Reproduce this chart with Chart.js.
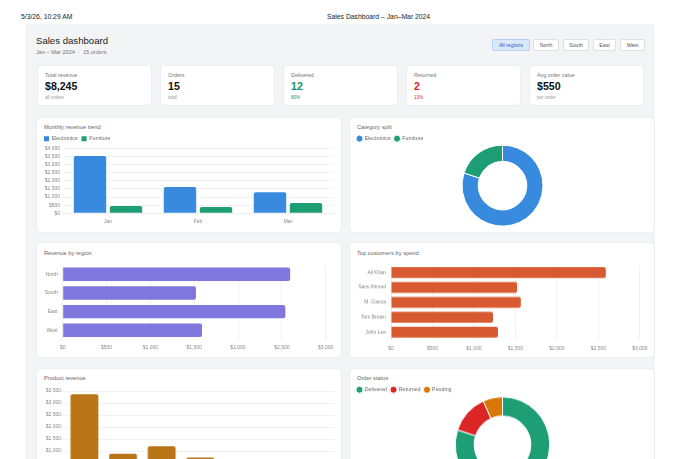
<!DOCTYPE html>
<html>
<head>
<meta charset="utf-8">
<title>Sales Dashboard – Jan–Mar 2024</title>
<script src="https://cdn.jsdelivr.net/npm/chart.js@4.4.1/dist/chart.umd.min.js"></script>
<style>
  body { margin: 0; width: 680px; height: 459px; overflow: hidden; background: #fff;
         font-family: "Liberation Sans", Arial, sans-serif; position: relative; }
  .abs { position: absolute; }
  .print-head { top: 13px; font-size: 6.8px; color: #222; line-height: 8px; white-space: nowrap; }
  .wrap { left: 25px; top: 24px; width: 630px; height: 480px; background: #f3f4f6; border-radius: 4px; }
  .h1 { left: 36px; top: 35px; font-size: 9.6px; color: #222; line-height: 11px; }
  .sub { left: 36px; top: 49px; font-size: 5.6px; color: #777; line-height: 6px; white-space: nowrap; }
  .btn { top: 39px; height: 12px; box-sizing: border-box; border: 1px solid #dedfe2; border-radius: 2px;
         background: #fff; color: #555; font-size: 5.2px; line-height: 10px; text-align: center; }
  .btn.on { background: #dbe7fb; border-color: #b9cff3; color: #2a5fc4; }
  .card { top: 65px; width: 115px; height: 41px; background: #fff; border-radius: 4px;
          box-sizing: border-box; border: 1px solid #eceef1; }
  .card .lbl { position: absolute; left: 7px; top: 6px; font-size: 5.4px; color: #777; line-height: 6px; white-space: nowrap; }
  .card .val { position: absolute; left: 7px; top: 14px; font-size: 10.6px; font-weight: bold; color: #111; line-height: 12px; }
  .card .note { position: absolute; left: 7px; top: 29px; font-size: 4.6px; color: #999; line-height: 5px; }
  .panel { background: #fff; border-radius: 5px; box-sizing: border-box; border: 1px solid #eceef1; }
  .ptitle { font-size: 5.7px; color: #666; line-height: 6px; white-space: nowrap; }
  .cv { position: absolute; }
</style>
</head>
<body>
<div class="abs print-head" style="left:21px">5/3/26, 10:29 AM</div>
<div class="abs print-head" style="left:327px">Sales Dashboard – Jan–Mar 2024</div>

<div class="abs wrap"></div>
<div class="abs h1">Sales dashboard</div>
<div class="abs sub">Jan – Mar 2024 &nbsp;·&nbsp; 15 orders</div>

<div class="abs btn on" style="left:492px;width:38px">All regions</div>
<div class="abs btn" style="left:533px;width:26px">North</div>
<div class="abs btn" style="left:563px;width:26px">South</div>
<div class="abs btn" style="left:593px;width:23px">East</div>
<div class="abs btn" style="left:620px;width:25px">West</div>

<div class="abs card" style="left:37px"><div class="lbl">Total revenue</div><div class="val">$8,245</div><div class="note">all orders</div></div>
<div class="abs card" style="left:160px"><div class="lbl">Orders</div><div class="val">15</div><div class="note">total</div></div>
<div class="abs card" style="left:283px"><div class="lbl">Delivered</div><div class="val" style="color:#1a9068">12</div><div class="note" style="color:#1a9068">80%</div></div>
<div class="abs card" style="left:406px"><div class="lbl">Returned</div><div class="val" style="color:#dc2626">2</div><div class="note" style="color:#dc2626">13%</div></div>
<div class="abs card" style="left:529px"><div class="lbl">Avg order value</div><div class="val">$550</div><div class="note">per order</div></div>

<!-- chart panels -->
<div class="abs panel" style="left:36px;top:117px;width:306px;height:116px"></div>
<div class="abs panel" style="left:349px;top:117px;width:306px;height:116px"></div>
<div class="abs panel" style="left:36px;top:242px;width:306px;height:116px"></div>
<div class="abs panel" style="left:349px;top:242px;width:306px;height:116px"></div>
<div class="abs panel" style="left:36px;top:368px;width:306px;height:130px"></div>
<div class="abs panel" style="left:349px;top:368px;width:306px;height:130px"></div>

<div class="abs ptitle" style="left:44px;top:124px">Monthly revenue trend</div>
<div class="abs ptitle" style="left:357px;top:124px">Category split</div>
<div class="abs ptitle" style="left:44px;top:250px">Revenue by region</div>
<div class="abs ptitle" style="left:357px;top:250px">Top customers by spend</div>
<div class="abs ptitle" style="left:44px;top:375px">Product revenue</div>
<div class="abs ptitle" style="left:357px;top:375px">Order status</div>

<div class="cv" style="left:40px;top:131.65px;width:294px;height:98.35px"><canvas id="monthlyChart"></canvas></div>
<div class="cv" style="left:353px;top:131.65px;width:299px;height:94.65px"><canvas id="categoryChart"></canvas></div>
<div class="cv" style="left:40px;top:256.7px;width:298.3px;height:98.6px"><canvas id="regionChart"></canvas></div>
<div class="cv" style="left:353px;top:257px;width:300px;height:98.7px"><canvas id="customerChart"></canvas></div>
<div class="cv" style="left:40px;top:383.7px;width:294.5px;height:107px"><canvas id="productChart"></canvas></div>
<div class="cv" style="left:353px;top:383.35px;width:299px;height:108.8px"><canvas id="statusChart"></canvas></div>

<script>
// data
const months = ["Jan", "Feb", "Mar"];
const electronicsByMonth = [3530, 1620, 1290];
const furnitureByMonth = [450, 390, 640];

const categories = ["Electronics", "Furniture"];
const categoryTotals = [6600, 1645];

const regions = ["North", "South", "East", "West"];
const regionRevenue = [2595, 1520, 2540, 1590];

const customers = ["Ali Khan", "Sara Ahmed", "M. Garcia", "Tom Brown", "John Lee"];
const customerSpend = [2590, 1520, 1565, 1230, 1290];

const products = ["Laptop", "Chair", "Monitor", "Desk", "Headphones", "Lamp", "Keyboard"];
const productRevenue = [3360, 890, 1195, 725, 640, 620, 590];

const statuses = ["Delivered", "Returned", "Pending"];
const statusCounts = [12, 2, 1];

// colours
const BLUE = "#378ADD";
const GREEN = "#1D9E75";
const PURPLE = "#7F77DD";
const CORAL = "#D85A30";
const AMBER = "#BA7517";
const RED = "#DC2626";
const ORANGE = "#D97706";

Chart.defaults.font.family = "'Liberation Sans', Arial, sans-serif";
Chart.defaults.font.size = 5;
Chart.defaults.color = "#888";
Chart.defaults.animation = false;
Chart.defaults.responsive = true;
Chart.defaults.maintainAspectRatio = false;
Chart.defaults.plugins.tooltip.enabled = false;

const money = (v) => "$" + Number(v).toLocaleString("en-US");
const gridColor = "#f1f2f4";

// the legend box adds 10px under the labels; trim it so the plot sits closer
const legendTrim = (px) => ({
  id: "legendTrim",
  beforeInit(chart) {
    const fit = chart.legend.fit;
    chart.legend.fit = function () {
      fit.call(this);
      this.height -= px;
    };
  },
});

const legendOpts = (pointStyle) => ({
  display: true,
  position: "top",
  align: "start",
  labels: {
    color: "#666",
    font: { size: 5.3 },
    boxWidth: 5,
    boxHeight: 5,
    padding: 4,
    usePointStyle: pointStyle,
    pointStyle: "circle",
  },
});

// Monthly revenue trend
new Chart(document.getElementById("monthlyChart"), {
  type: "bar",
  data: {
    labels: months,
    datasets: [
      { label: "Electronics", data: electronicsByMonth, backgroundColor: BLUE, borderRadius: 2 },
      { label: "Furniture", data: furnitureByMonth, backgroundColor: GREEN, borderRadius: 2 },
    ],
  },
  options: {
    layout: { padding: { right: 1 } },
    plugins: { legend: legendOpts(false) },
    scales: {
      x: { grid: { display: false, drawTicks: false }, border: { color: "#eee" }, ticks: { padding: 5.5 } },
      y: {
        beginAtZero: true,
        afterFit: (s) => { s.width = 23; },
        grid: { color: gridColor, drawTicks: false },
        border: { display: false },
        ticks: { stepSize: 500, padding: 3, autoSkip: false, callback: money },
      },
    },
  },
  plugins: [legendTrim(3)],
});

// Category split
new Chart(document.getElementById("categoryChart"), {
  type: "doughnut",
  data: {
    labels: categories,
    datasets: [{ data: categoryTotals, backgroundColor: [BLUE, GREEN], borderWidth: 1, borderColor: "#fff" }],
  },
  options: {
    cutout: "60%",
    plugins: { legend: legendOpts(true) },
  },
  plugins: [legendTrim(6.65)],
});

// horizontal bar helper
function hbar(id, labels, values, colour, axisWidth, xPad) {
  return new Chart(document.getElementById(id), {
    type: "bar",
    data: { labels: labels, datasets: [{ data: values, backgroundColor: colour, borderRadius: 2 }] },
    options: {
      indexAxis: "y",
      plugins: { legend: { display: false } },
      scales: {
        x: {
          beginAtZero: true,
          grid: { color: gridColor, drawTicks: false },
          border: { display: false },
          ticks: { stepSize: 500, padding: xPad, autoSkip: false, callback: money },
        },
        y: {
          afterFit: (s) => { s.width = axisWidth; },
          grid: { display: false, drawTicks: false },
          border: { color: "#eee" },
          ticks: { padding: 5, autoSkip: false },
        },
      },
    },
  });
}

hbar("regionChart", regions, regionRevenue, PURPLE, 22.7, 5);
hbar("customerChart", customers, customerSpend, CORAL, 38, 5.5);

// Product revenue
new Chart(document.getElementById("productChart"), {
  type: "bar",
  data: { labels: products, datasets: [{ data: productRevenue, backgroundColor: AMBER, borderRadius: 2 }] },
  options: {
    plugins: { legend: { display: false } },
    scales: {
      x: { grid: { display: false, drawTicks: false }, border: { color: "#eee" }, ticks: { padding: 5 } },
      y: {
        beginAtZero: true,
        afterFit: (s) => { s.width = 25; },
        grid: { color: gridColor, drawTicks: false },
        border: { display: false },
        ticks: { stepSize: 500, padding: 4, autoSkip: false, callback: money },
      },
    },
  },
});

// Order status
new Chart(document.getElementById("statusChart"), {
  type: "doughnut",
  data: {
    labels: statuses,
    datasets: [{ data: statusCounts, backgroundColor: [GREEN, RED, ORANGE], borderWidth: 1, borderColor: "#fff" }],
  },
  options: {
    cutout: "60%",
    plugins: { legend: legendOpts(true) },
  },
  plugins: [legendTrim(6)],
});
</script>
</body>
</html>
